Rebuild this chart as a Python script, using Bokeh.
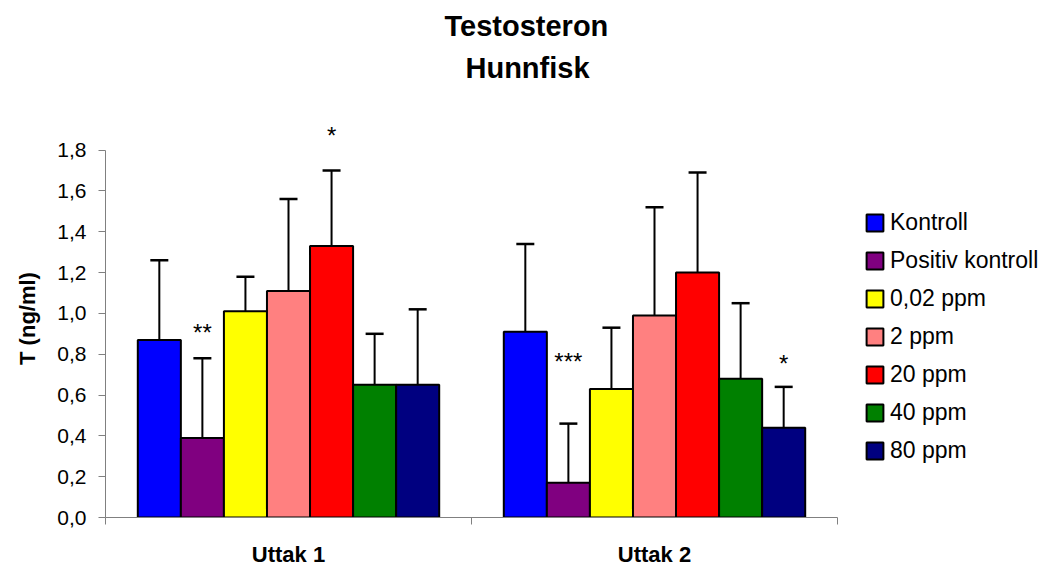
from bokeh.plotting import figure
from bokeh.models import (ColumnDataSource, Range1d, FixedTicker, CustomJSTickFormatter,
                          Legend, LegendItem, Title)
from bokeh.embed import file_html
from bokeh.resources import INLINE
from bokeh.core.properties import value

# ---- data -------------------------------------------------------------
groups = ["Uttak 1", "Uttak 2"]
series = ["Kontroll", "Positiv kontroll", "0,02 ppm", "2 ppm", "20 ppm", "40 ppm", "80 ppm"]
colors = ["#0000FF", "#800080", "#FFFF00", "#FF8080", "#FF0000", "#008000", "#000080"]

mean_uttak1 = [0.87, 0.39, 1.01, 1.11, 1.33, 0.65, 0.65]
mean_uttak2 = [0.91, 0.17, 0.63, 0.99, 1.20, 0.68, 0.44]
sd_uttak1 = [0.39, 0.39, 0.17, 0.45, 0.37, 0.25, 0.37]
sd_uttak2 = [0.43, 0.29, 0.30, 0.53, 0.49, 0.37, 0.20]

y_ticks = [0.0, 0.2, 0.4, 0.6, 0.8, 1.0, 1.2, 1.4, 1.6, 1.8]

# significance markers (group index, series index, text, baseline height)
sig_group = [0, 0, 1, 1]
sig_series = [1, 4, 1, 6]
sig_text = ["**", "*", "***", "*"]
sig_y = [0.904, 1.874, 0.766, 0.756]

title_lines = ["Testosteron", "Hunnfisk"]
y_label = "T (ng/ml)"

# ---- layout helpers ---------------------------------------------------
n = len(series)
gap = 1.5                      # gap between groups, in bar widths
bw = 1.0 / (n + gap)           # bar width in category units
px_per_group = 366             # horizontal size of one group slot
frame_w = 948                  # plot area, extended right to hold the legend


def bar_x(g, s):
    return g + (gap / 2 + s + 0.5) * bw


FONT = "Liberation Sans"

p = figure(width=1053, height=569, output_backend="svg", toolbar_location=None,
           title=None,
           x_range=Range1d(0, frame_w / px_per_group), y_range=Range1d(0, 1.95),
           min_border_left=105, min_border_right=0, min_border_top=119,
           min_border_bottom=0, background_fill_color="white",
           border_fill_color="white")
p.outline_line_color = None
p.xgrid.visible = False
p.ygrid.visible = False

means = [mean_uttak1, mean_uttak2]
sds = [sd_uttak1, sd_uttak2]

items = []
for s, name in enumerate(series):
    src = ColumnDataSource(dict(
        x=[bar_x(g, s) for g in range(len(groups))],
        top=[means[g][s] for g in range(len(groups))],
        err=[means[g][s] + sds[g][s] for g in range(len(groups))],
    ))
    r = p.vbar(x="x", top="top", bottom=0, width=bw, source=src,
               fill_color=colors[s], line_color="black", line_width=2)
    p.segment(x0="x", y0="top", x1="x", y1="err", source=src,
              line_color="black", line_width=2)
    p.scatter(x="x", y="err", source=src, marker="dash", size=18,
              line_color="black", line_width=2.5)
    items.append(LegendItem(label=name, renderers=[r]))

# significance stars
p.text(x=[bar_x(g, s) for g, s in zip(sig_group, sig_series)], y=sig_y, text=sig_text,
       text_align="center", text_baseline="alphabetic",
       text_font=value(FONT), text_font_size="24px", text_color="black")

# ---- axes -------------------------------------------------------------
yax = p.yaxis[0]
yax.ticker = FixedTicker(ticks=y_ticks, minor_ticks=[])
yax.bounds = (0, 1.8)
yax.formatter = CustomJSTickFormatter(code="return tick.toFixed(1).replace('.', ',');")
yax.axis_line_color = "#808080"
yax.major_tick_line_color = "#808080"
yax.major_tick_in = 0
yax.major_tick_out = 7
yax.minor_tick_line_color = None
yax.major_label_text_font = FONT
yax.major_label_text_font_size = "21px"
yax.major_label_text_color = "black"
yax.major_label_standoff = 12
yax.axis_label = y_label
yax.axis_label_text_font = FONT
yax.axis_label_text_font_style = "bold"
yax.axis_label_text_font_size = "22px"
yax.axis_label_text_color = "black"
yax.axis_label_standoff = 14

xax = p.xaxis[0]
xax.bounds = (0, len(groups))
xax.ticker = FixedTicker(ticks=[g + 0.5 for g in range(len(groups))],
                         minor_ticks=list(range(len(groups) + 1)))
xax.major_label_overrides = {g + 0.5: name for g, name in enumerate(groups)}
xax.axis_line_color = "#808080"
xax.major_tick_line_color = None
xax.major_tick_in = 0
xax.major_tick_out = 0
xax.minor_tick_line_color = "#808080"
xax.minor_tick_in = 0
xax.minor_tick_out = 7
xax.major_label_text_font = FONT
xax.major_label_text_font_style = "bold"
xax.major_label_text_font_size = "22px"
xax.major_label_text_color = "black"
xax.major_label_standoff = 17

# ---- legend (inside the extended plot area, right of the bars) --------
legend = Legend(items=items, location=(759, 53), orientation="vertical",
                label_text_font=FONT, label_text_font_size="23px",
                label_text_color="black", glyph_width=21, glyph_height=21,
                label_height=26, label_standoff=5, spacing=11, padding=0,
                margin=0, border_line_color=None, background_fill_alpha=0)
p.add_layout(legend)

# ---- two-line title ---------------------------------------------------
# panels stack upward from the plot area: a thin spacer, then the two lines
p.add_layout(Title(text=" ", standoff=33, text_font_size="1px"), "above")
p.add_layout(Title(text=title_lines[1], align="left", offset=360, standoff=0,
                   text_font=FONT, text_font_style="bold", text_font_size="29px",
                   text_color="black"), "above")
p.add_layout(Title(text=title_lines[0], align="left", offset=339, standoff=15,
                   text_font=FONT, text_font_style="bold", text_font_size="29px",
                   text_color="black"), "above")

open("out.html", "w").write(file_html(p, INLINE))
